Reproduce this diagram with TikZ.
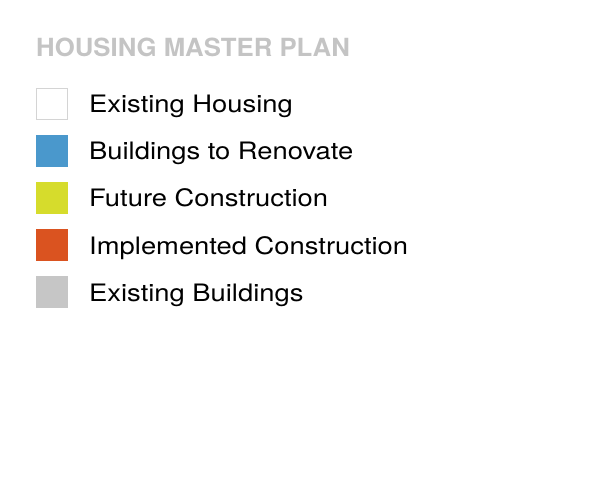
\documentclass[tikz,border=0pt]{standalone}
\usepackage{fontspec}
\setmainfont{TeX Gyre Heros}
\newfontfamily\lblfont[FakeStretch=1.14]{TeX Gyre Heros}
\newfontfamily\headfont[FakeStretch=1.03]{TeX Gyre Heros}
\definecolor{cblue}{HTML}{4A98CC}
\definecolor{cyellow}{HTML}{D6DC2C}
\definecolor{corange}{HTML}{DA5320}
\definecolor{cgray}{HTML}{C6C6C6}
\definecolor{chead}{HTML}{C4C4C4}
\definecolor{cborder}{HTML}{D4D4D4}
\begin{document}
\begin{tikzpicture}[x=1pt,y=-1pt,
  swatch/.style={minimum size=32pt,inner sep=0pt,outer sep=0pt,draw=none},
  lbl/.style={anchor=base west,inner sep=0pt,font=\lblfont\fontsize{24}{28}\selectfont,text=black}]
\useasboundingbox (0,0) rectangle (600,500);
\node[anchor=base west,inner sep=0pt,text=chead,font=\headfont\fontsize{25}{30}\selectfont\bfseries] (title) at (36,57) {HOUSING MASTER PLAN};
\node[swatch,fill=white,draw=cborder,line width=0.8pt,minimum size=31pt] (s1) at (52,104) {};
\node[swatch,fill=cblue] (s2) at (52,151) {};
\node[swatch,fill=cyellow] (s3) at (52,198) {};
\node[swatch,fill=corange] (s4) at (52,245) {};
\node[swatch,fill=cgray] (s5) at (52,292) {};
\node[lbl] (t1) at (89,113) {Existing Housing};
\node[lbl] (t2) at (89,160) {Buildings to Renovate};
\node[lbl] (t3) at (89,207) {Future Construction};
\node[lbl] (t4) at (89,254) {Implemented Construction};
\node[lbl] (t5) at (89,301) {Existing Buildings};
\end{tikzpicture}
\end{document}
